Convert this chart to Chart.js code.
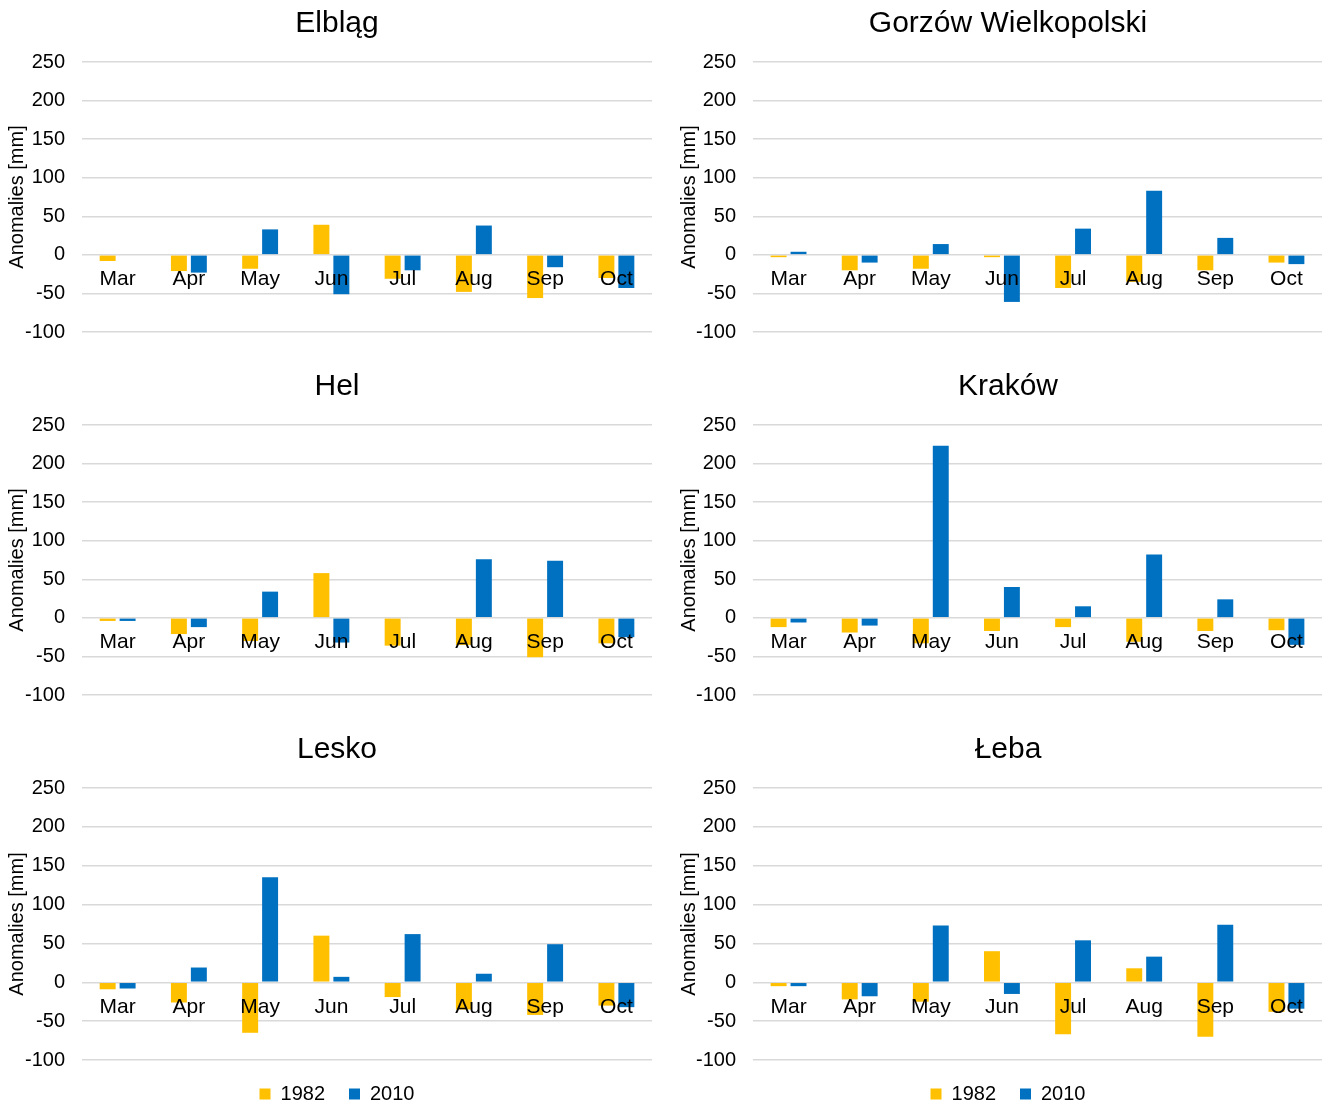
<!DOCTYPE html>
<html>
<head>
<meta charset="utf-8">
<script src="https://cdn.jsdelivr.net/npm/chart.js@4/dist/chart.umd.min.js"></script>
<style>
  body { margin: 0; background: #fff; }
  #wrap { position: relative; width: 1325px; height: 1104px; overflow: hidden; }
  canvas { position: absolute; }
</style>
</head>
<body>
<div id="wrap">
  <canvas id="c0" width="662" height="363" style="left:0;top:0"></canvas>
  <canvas id="c1" width="663" height="363" style="left:662px;top:0"></canvas>
  <canvas id="c2" width="662" height="363" style="left:0;top:363px"></canvas>
  <canvas id="c3" width="663" height="363" style="left:662px;top:363px"></canvas>
  <canvas id="c4" width="662" height="388" style="left:0;top:726px"></canvas>
  <canvas id="c5" width="663" height="388" style="left:662px;top:726px"></canvas>
</div>
<script>
// months on the x axis
const months = ['Mar', 'Apr', 'May', 'Jun', 'Jul', 'Aug', 'Sep', 'Oct'];
const seriesNames = ['1982', '2010'];
const yTicks = [250, 200, 150, 100, 50, 0, -50, -100];

// anomalies [mm] per station
const elblag1982 = [-8, -21, -18, 39, -31, -48, -56, -30];
const elblag2010 = [0, -23, 33, -51, -20, 38, -16, -43];
const gorzow1982 = [-3, -20, -18, -3, -43, -35, -20, -10];
const gorzow2010 = [4, -10, 14, -61, 34, 83, 22, -12];
const hel1982 = [-4, -21, -30, 58, -36, -35, -51, -33];
const hel2010 = [-4, -12, 34, -32, 0, 76, 74, -25];
const krakow1982 = [-12, -19, -33, -17, -12, -31, -17, -16];
const krakow2010 = [-6, -10, 223, 40, 15, 82, 24, -35];
const lesko1982 = [-9, -26, -65, 60, -19, -35, -42, -30];
const lesko2010 = [-8, 19, 135, 7, 62, 11, 49, -32];
const leba1982 = [-5, -22, -25, 40, -67, 18, -70, -38];
const leba2010 = [-5, -18, 73, -15, 54, 33, 74, -34];

const panels = [
  { title: 'Elbląg', a: elblag1982, b: elblag2010 },
  { title: 'Gorzów Wielkopolski', a: gorzow1982, b: gorzow2010 },
  { title: 'Hel', a: hel1982, b: hel2010 },
  { title: 'Kraków', a: krakow1982, b: krakow2010 },
  { title: 'Lesko', a: lesko1982, b: lesko2010 },
  { title: 'Łeba', a: leba1982, b: leba2010 }
];

Chart.defaults.font.family = "'Liberation Sans', Arial, sans-serif";
Chart.defaults.color = '#000';

panels.forEach((p, i) => {
  const right = i % 2 === 1;
  const bottom = i >= 4;
  // title is centred a bit right of the canvas middle, like in Excel
  const padLeft = right ? 32 : 22;
  const axisWidth = right ? 59 : 60;
  new Chart(document.getElementById('c' + i), {
    type: 'bar',
    data: {
      labels: months,
      datasets: [
        { label: seriesNames[0], data: p.a, backgroundColor: '#FFC000' },
        { label: seriesNames[1], data: p.b, backgroundColor: '#0070C0' }
      ]
    },
    options: {
      responsive: false,
      animation: false,
      devicePixelRatio: 1,
      categoryPercentage: 0.56,
      barPercentage: 0.8,
      layout: { padding: { left: padLeft, right: right ? 3 : 10, bottom: bottom ? 0 : 31 } },
      plugins: {
        title: {
          display: true,
          text: p.title,
          font: { size: 30, weight: 'normal' },
          padding: { top: 6, bottom: 20 }
        },
        legend: {
          display: bottom,
          position: 'bottom',
          labels: { boxWidth: 11, boxHeight: 11, font: { size: 20 }, padding: 24 }
        },
        tooltip: { enabled: false }
      },
      scales: {
        x: {
          position: { y: 0 },
          grid: { display: false },
          border: { display: false },
          ticks: { font: { size: 21 }, padding: 4, maxRotation: 0, z: 1 },
          afterFit: s => { s.height = 0; }
        },
        y: {
          min: -100,
          max: 250,
          afterBuildTicks: s => { s.ticks = yTicks.map(v => ({ value: v })); },
          grid: { color: '#D9D9D9', lineWidth: 1.5, drawTicks: false },
          border: { display: false },
          ticks: { font: { size: 20 }, padding: 17 },
          title: { display: true, text: 'Anomalies [mm]', font: { size: 20 }, padding: { top: -17, bottom: 0 } },
          afterFit: s => { s.width = axisWidth; }
        }
      }
    }
  });
});
</script>
</body>
</html>
